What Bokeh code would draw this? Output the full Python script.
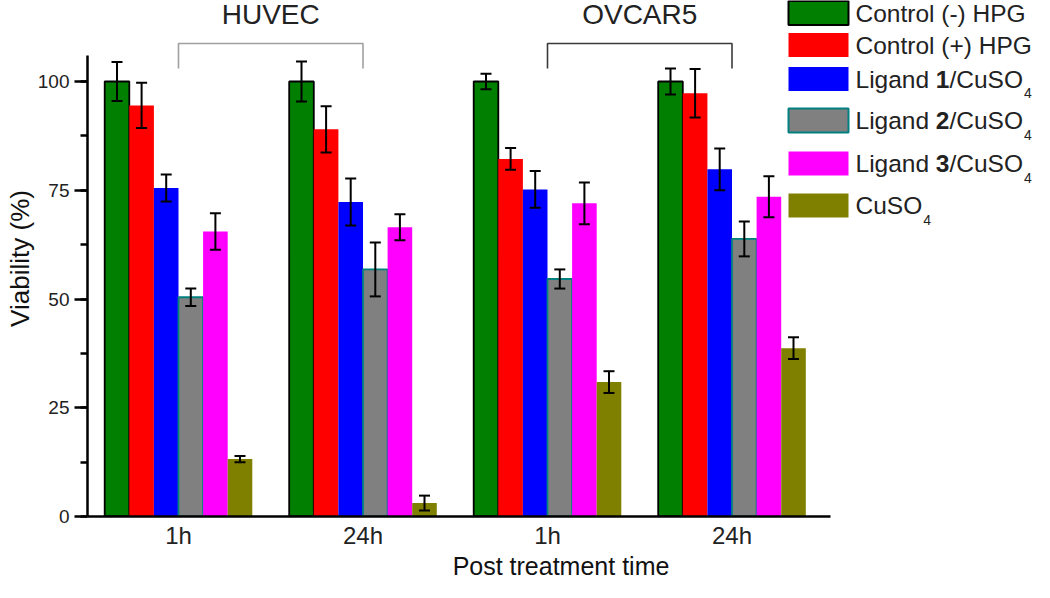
from bokeh.plotting import figure
from bokeh.models import (ColumnDataSource, Whisker, FixedTicker, SingleIntervalTicker,
                          Range1d, TeeHead)
from bokeh.core.properties import value
from bokeh.embed import file_html
from bokeh.resources import INLINE

# ---------------- data ----------------
time_labels = ["1h", "24h", "1h", "24h"]
cell_lines = ["HUVEC", "OVCAR5"]
series_names = ["Control (-) HPG", "Control (+) HPG", "Ligand 1/CuSO4",
                "Ligand 2/CuSO4", "Ligand 3/CuSO4", "CuSO4"]

ctrl_neg = [100.0, 100.0, 100.0, 100.0]
ctrl_neg_err = [4.5, 4.6, 1.8, 3.0]
ctrl_pos = [94.5, 89.0, 82.2, 97.3]
ctrl_pos_err = [5.2, 5.3, 2.5, 5.6]
ligand1 = [75.5, 72.3, 75.2, 79.8]
ligand1_err = [3.1, 5.4, 4.2, 4.8]
ligand2 = [50.4, 56.8, 54.6, 63.8]
ligand2_err = [2.0, 6.2, 2.2, 4.0]
ligand3 = [65.5, 66.5, 72.0, 73.5]
ligand3_err = [4.2, 3.0, 4.8, 4.7]
cuso4 = [13.2, 3.1, 30.9, 38.7]
cuso4_err = [0.7, 1.7, 2.5, 2.5]

values_all = [ctrl_neg, ctrl_pos, ligand1, ligand2, ligand3, cuso4]
errors_all = [ctrl_neg_err, ctrl_pos_err, ligand1_err, ligand2_err, ligand3_err, cuso4_err]

# ---------------- style / layout ----------------
colors = ["#007F00", "#FF0000", "#0000FF", "#808080", "#FF00FF", "#808000"]
outline = ["black", None, None, "#008080", None, None]
FONT = "Liberation Sans"

W, H = 1034, 582
BL, BB = 87, 66
FW, FH = W - BL, H - BB
SX = 184.5                      # px per group
X0 = 1 - (178 - BL) / SX
X1 = X0 + FW / SX
SY = (FH - 81) / 100.0          # px per percent
Y1 = FH / SY
BW = 24.6 / SX                  # bar width in data units


def dx(cx):
    return X0 + (cx - BL) / SX


def dy(cy):
    return (FH - cy) / SY


p = figure(width=W, height=H, x_range=Range1d(X0, X1), y_range=Range1d(0, Y1),
           output_backend="svg", toolbar_location=None,
           min_border_left=BL, min_border_right=0, min_border_top=0,
           min_border_bottom=BB)
p.xgrid.visible = False
p.ygrid.visible = False
p.outline_line_color = None
p.background_fill_color = "white"
p.border_fill_color = "white"

# bars
for i, (vals, errs) in enumerate(zip(values_all, errors_all)):
    xs = [g + 1 + (i - 2.5) * BW for g in range(len(vals))]
    lc = outline[i]
    p.vbar(x=xs, top=vals, width=BW, fill_color=colors[i],
           line_color=lc, line_width=1.8 if lc else 0)
for i, (vals, errs) in enumerate(zip(values_all, errors_all)):
    xs = [g + 1 + (i - 2.5) * BW for g in range(len(vals))]
    src = ColumnDataSource(dict(base=xs,
                                upper=[v + e for v, e in zip(vals, errs)],
                                lower=[v - e for v, e in zip(vals, errs)]))
    w = Whisker(source=src, base="base", upper="upper", lower="lower",
                line_width=2, line_color="black",
                upper_head=TeeHead(size=11, line_width=2, line_color="black"),
                lower_head=TeeHead(size=11, line_width=2, line_color="black"),
                level="overlay")
    p.add_layout(w)

# brackets and cell-line titles
b_top, b_bot = dy(43), dy(68)
p.multi_line(xs=[[1, 1, 2, 2], [3, 3, 4, 4]],
             ys=[[b_bot, b_top, b_top, b_bot], [b_bot, b_top, b_top, b_bot]],
             line_color=["#a0a0a0", "#3a3a3a"], line_width=1.6)
p.text(x=[1.5, 3.5], y=[dy(14), dy(14)], text=cell_lines,
       text_font=value(FONT), text_font_size="28px", text_color="#222222",
       text_align="center", text_baseline="middle")

# axes
ya = p.yaxis[0]
ya.ticker = SingleIntervalTicker(interval=25, num_minor_ticks=2)
ya.bounds = (0, dy(55))
ya.axis_line_width = 2.5
ya.major_tick_line_width = 2.5
ya.minor_tick_line_width = 2.5
ya.major_tick_out = 13
ya.major_tick_in = 0
ya.minor_tick_out = 7
ya.minor_tick_in = 0
ya.major_label_text_font = FONT
ya.major_label_text_font_size = "19px"
ya.major_label_text_color = "#222222"
ya.major_label_standoff = 5
ya.axis_label = "Viability (%)"
ya.axis_label_text_font = FONT
ya.axis_label_text_font_size = "26px"
ya.axis_label_text_font_style = "normal"
ya.axis_label_text_color = "#111111"
ya.axis_label_standoff = 0

xa = p.xaxis[0]
xa.ticker = FixedTicker(ticks=[1, 2, 3, 4])
xa.major_label_overrides = {i + 1: t for i, t in enumerate(time_labels)}
xa.bounds = (X0, dx(830))
xa.axis_line_width = 2.5
xa.major_tick_out = 0
xa.major_tick_in = 0
xa.minor_tick_out = 0
xa.minor_tick_in = 0
xa.major_label_text_font = FONT
xa.major_label_text_font_size = "24px"
xa.major_label_text_color = "#222222"
xa.major_label_standoff = 5
xa.axis_label = "Post treatment time"
xa.axis_label_text_font = FONT
xa.axis_label_text_font_size = "25px"
xa.axis_label_text_font_style = "normal"
xa.axis_label_text_color = "#111111"
xa.axis_label_standoff = 0

# ---------------- manual legend ----------------
AW = {" ": 278, "(": 333, ")": 333, "-": 333, "+": 584, "/": 278, "C": 722, "o": 556,
      "n": 556, "t": 278, "r": 333, "l": 222, "H": 722, "P": 667, "G": 778, "L": 556,
      "i": 222, "g": 556, "a": 556, "d": 556, "u": 556, "S": 667, "O": 778}


def tw(s, size):
    return sum(AW.get(c, 556) for c in s) / 1000.0 * size


legend_parts = [
    [("Control (-) HPG", "n")],
    [("Control (+) HPG", "n")],
    [("Ligand ", "n"), ("1", "b"), ("/CuSO", "n"), ("4", "s")],
    [("Ligand ", "n"), ("2", "b"), ("/CuSO", "n"), ("4", "s")],
    [("Ligand ", "n"), ("3", "b"), ("/CuSO", "n"), ("4", "s")],
    [("CuSO", "n"), ("4", "s")],
]
row_y = [12.5, 44.5, 78.5, 120, 163, 205]
LS = 24.5
SUB = 14
sw_l, sw_r, sw_h, txt_l = 788, 848, 24, 855

for i, parts in enumerate(legend_parts):
    cy = row_y[i]
    lc = outline[i]
    p.quad(left=[dx(sw_l)], right=[dx(sw_r)], top=[dy(cy - sw_h / 2)],
           bottom=[dy(cy + sw_h / 2)], fill_color=colors[i],
           line_color=lc, line_width=2 if lc else 0)
    cx = txt_l
    for txt, kind in parts:
        if kind == "s":
            p.text(x=[dx(cx + 1)], y=[dy(cy + 14)], text=[txt], text_font=value(FONT),
                   text_font_size=f"{SUB}px", text_color="#222222",
                   text_align="left", text_baseline="middle")
            cx += tw(txt, SUB) + 1
        else:
            p.text(x=[dx(cx)], y=[dy(cy)], text=[txt], text_font=value(FONT),
                   text_font_size=f"{LS}px", text_color="#222222",
                   text_font_style="bold" if kind == "b" else "normal",
                   text_align="left", text_baseline="middle")
            cx += tw(txt, LS)

open("out.html", "w").write(file_html(p, INLINE))
